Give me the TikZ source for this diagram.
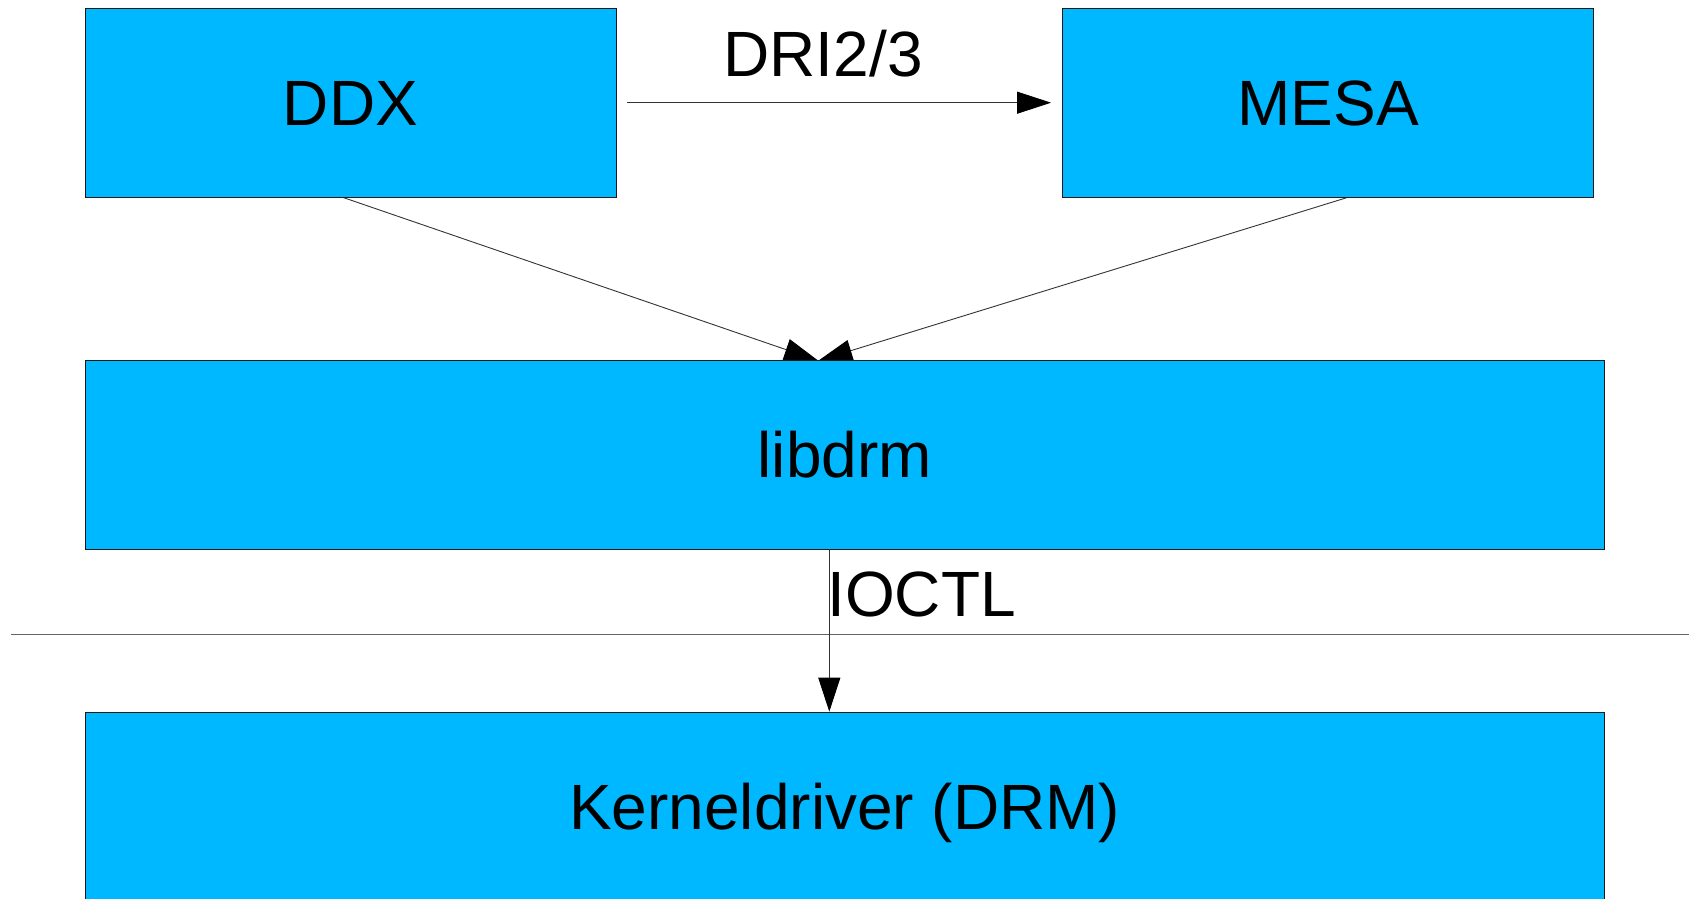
\documentclass[tikz,border=0pt]{standalone}
\usepackage{fontspec}
\setmainfont{Liberation Sans}
\usetikzlibrary{arrows.meta,backgrounds,calc}
\definecolor{boxblue}{RGB}{0,184,255}
\definecolor{rulegray}{RGB}{100,100,100}
\begin{document}
\begin{tikzpicture}[x=1pt,y=-1pt,
  block/.style={draw=black!90,line width=0.9pt,fill=boxblue,rectangle,inner sep=0pt,
    font=\fontsize{64}{76}\selectfont,text height=45.8pt,text depth=0pt},
  smallblock/.style={block,minimum width=531pt,minimum height=188.7pt},
  wideblock/.style={block,minimum width=1519.5pt,minimum height=188.7pt},
  conn/.style={draw=black!80,line width=0.9pt,-{Triangle[length=34pt,width=22pt,color=black]}},
  lbl/.style={inner sep=0pt,font=\fontsize{64}{76}\selectfont}]
  \useasboundingbox (0,0) rectangle (1691,899);

  % component boxes
  \node[smallblock] (ddx)    at (350.5,102.7) {DDX};
  \node[smallblock] (mesa)   at (1328,102.7)  {MESA};
  \node[wideblock]  (libdrm) at (844.8,455)   {libdrm};
  \node[wideblock]  (kernel) at (844.8,806.5) {Kerneldriver (DRM)};

  % connector end points
  \coordinate (ddxout)  at (341.7,197);
  \coordinate (mesaout) at (1349,197);
  \coordinate (drmin)   at (818.3,360.7);
  \coordinate (drmout)  at (829.3,549.3);

  \begin{pgfonlayer}{background}
    \draw[conn] (ddxout) -- (drmin);
    \draw[conn] (mesaout) -- (drmin);
  \end{pgfonlayer}

  % DRI2/3 link between DDX and MESA
  \draw[conn] ($(ddx.east)+(11,0)$) -- ($(mesa.west)+(-11,0)$);
  \node[lbl,anchor=base] (dri) at (823,76) {DRI2/3};

  % user space / kernel space boundary
  \coordinate (sepl) at (11,634.7);
  \coordinate (sepr) at (1689,634.7);
  \draw[rulegray,line width=1.2pt] (sepl) -- (sepr);

  % IOCTL link
  \draw[conn] (drmout) -- (drmout |- kernel.north);
  \node[lbl,anchor=base west] (ioctl) at (827,616) {IOCTL};
\end{tikzpicture}
\end{document}
